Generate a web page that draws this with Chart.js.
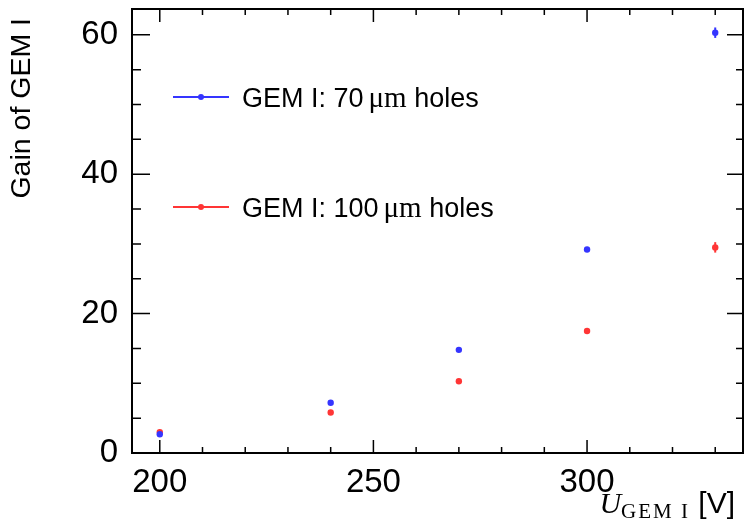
<!DOCTYPE html>
<html><head><meta charset="utf-8">
<script src="https://cdn.jsdelivr.net/npm/chart.js@4"></script>
<style>html,body{margin:0;padding:0;background:#fff;overflow:hidden}#wrap{width:744px;height:522px}</style>
</head><body><div id="wrap"><canvas id="c" width="744" height="522"></canvas></div>
<script>
const voltages = [200, 240, 270, 300, 330];
const gain70 = [2.7, 7.2, 14.8, 29.2, 60.3];
const err70 = [0.15, 0.2, 0.25, 0.35, 0.75];
const gain100 = [3.0, 5.8, 10.3, 17.5, 29.5];
const err100 = [0.15, 0.15, 0.2, 0.3, 0.75];
const xTicks = [200, 250, 300];
const yTicks = [0, 20, 40, 60];
const seriesLabels = ['GEM I: 70 μm holes', 'GEM I: 100 μm holes'];
const seriesColors = ['#3535ff', '#ff3535'];
const yTitle = 'Gain of GEM I';

const SANS = '"Liberation Sans", Arial, sans-serif';
const SERIF = '"Liberation Serif", "DejaVu Serif", serif';

function pts(ys) { return voltages.map((x, i) => ({x: x, y: ys[i]})); }

const decor = {
  id: 'decor',
  beforeDatasetsDraw(chart) {
    const ctx = chart.ctx, xs = chart.scales.x, ys = chart.scales.y;
    const errs = [err70, err100];
    chart.data.datasets.forEach((ds, di) => {
      ctx.save();
      ctx.strokeStyle = ds.backgroundColor;
      ctx.lineWidth = 2;
      ds.data.forEach((p, i) => {
        const e = errs[di][i];
        const px = xs.getPixelForValue(p.x);
        ctx.beginPath();
        ctx.moveTo(px, ys.getPixelForValue(p.y - e));
        ctx.lineTo(px, ys.getPixelForValue(p.y + e));
        ctx.stroke();
      });
      ctx.restore();
    });
  },
  afterDraw(chart) {
    const ctx = chart.ctx, a = chart.chartArea, xs = chart.scales.x, ys = chart.scales.y;
    ctx.save();
    ctx.strokeStyle = '#000';
    ctx.lineWidth = 1.5;
    for (let v = 200; v <= 330; v += 10) {
      const px = xs.getPixelForValue(v);
      const L = (v % 50 === 0) ? 13 : 6;
      ctx.beginPath();
      ctx.moveTo(px, a.bottom); ctx.lineTo(px, a.bottom - L);
      ctx.moveTo(px, a.top); ctx.lineTo(px, a.top + L);
      ctx.stroke();
    }
    for (let v = 0; v <= 60; v += 5) {
      const py = ys.getPixelForValue(v);
      const major = (v % 20 === 0);
      ctx.beginPath();
      ctx.moveTo(a.left, py); ctx.lineTo(a.left + (major ? 18 : 9), py);
      ctx.moveTo(a.right, py); ctx.lineTo(a.right - (major ? 16 : 7), py);
      ctx.stroke();
    }
    ctx.lineWidth = 2;
    ctx.strokeRect(a.left, a.top, a.right - a.left, a.bottom - a.top);

    // legend
    const legendY = [97, 207];
    chart.data.datasets.forEach((ds, i) => {
      const y = legendY[i];
      ctx.strokeStyle = ds.backgroundColor;
      ctx.fillStyle = ds.backgroundColor;
      ctx.lineWidth = 2;
      ctx.beginPath(); ctx.moveTo(173, y); ctx.lineTo(229, y); ctx.stroke();
      ctx.beginPath(); ctx.arc(201, y, 3, 0, Math.PI * 2); ctx.fill();
      const parts = ds.label.split('μm');
      ctx.fillStyle = '#000';
      ctx.textBaseline = 'alphabetic';
      ctx.textAlign = 'left';
      let x = 242;
      const base = y + 9.5;
      ctx.font = '27px ' + SANS;
      const p0 = parts[0].replace(/ $/, '');
      ctx.fillText(p0, x, base); x += ctx.measureText(p0).width + 5;
      ctx.font = '29px ' + SERIF;
      ctx.fillText('μm', x, base); x += ctx.measureText('μm').width;
      ctx.font = '27px ' + SANS;
      ctx.fillText(parts[1], x, base);
    });

    // y title
    ctx.save();
    ctx.translate(30, 18);
    ctx.rotate(-Math.PI / 2);
    ctx.font = '28.5px ' + SANS;
    ctx.fillStyle = '#000';
    ctx.textAlign = 'right';
    ctx.textBaseline = 'alphabetic';
    ctx.fillText(yTitle, 0, 0);
    ctx.restore();

    // x title
    ctx.fillStyle = '#000';
    ctx.textBaseline = 'alphabetic';
    ctx.textAlign = 'left';
    const f1 = 'italic 30px ' + SERIF, f2 = '21px ' + SERIF, f3 = '30px ' + SANS;
    ctx.font = f1; const w1 = ctx.measureText('U').width;
    ctx.font = f2; ctx.letterSpacing = '2px'; const w2 = ctx.measureText('GEM I').width; ctx.letterSpacing = '0px';
    ctx.font = f3; const w3 = ctx.measureText(' [V]').width;
    let x = 735 - (w1 + w2 + w3);
    const bl = 513;
    ctx.font = f1; ctx.fillText('U', x, bl); x += w1;
    ctx.font = f2; ctx.letterSpacing = '2px'; ctx.fillText('GEM I', x, bl + 5); x += w2; ctx.letterSpacing = '0px';
    ctx.font = f3; ctx.fillText(' [V]', x, bl);
    ctx.restore();
  }
};

new Chart(document.getElementById('c'), {
  type: 'scatter',
  data: {
    datasets: [
      { label: seriesLabels[0], data: pts(gain70), backgroundColor: seriesColors[0], borderColor: seriesColors[0], pointRadius: 3.2, pointBorderWidth: 0, showLine: false },
      { label: seriesLabels[1], data: pts(gain100), backgroundColor: seriesColors[1], borderColor: seriesColors[1], pointRadius: 3.2, pointBorderWidth: 0, showLine: false }
    ]
  },
  options: {
    responsive: false,
    animation: false,
    devicePixelRatio: 1,
    layout: { autoPadding: false, padding: { top: 9, right: 1, left: 0, bottom: 0 } },
    plugins: { legend: { display: false }, tooltip: { enabled: false } },
    scales: {
      x: {
        type: 'linear', min: 193.5, max: 336.5,
        afterBuildTicks: s => { s.ticks = xTicks.map(v => ({ value: v })); },
        afterFit: s => { s.height = 69; s.paddingLeft = 0; s.paddingRight = 0; },
        grid: { display: false }, border: { display: false },
        ticks: { color: '#000', font: { family: SANS, size: 33 }, padding: 2, maxRotation: 0, autoSkip: false }
      },
      y: {
        type: 'linear', min: 0, max: 63.7,
        afterBuildTicks: s => { s.ticks = yTicks.map(v => ({ value: v })); },
        afterFit: s => { s.width = 132; s.paddingTop = 0; s.paddingBottom = 0; },
        grid: { display: false }, border: { display: false },
        ticks: { color: '#000', font: { family: SANS, size: 33 }, padding: 6, autoSkip: false }
      }
    }
  },
  plugins: [decor]
});
</script></body></html>
